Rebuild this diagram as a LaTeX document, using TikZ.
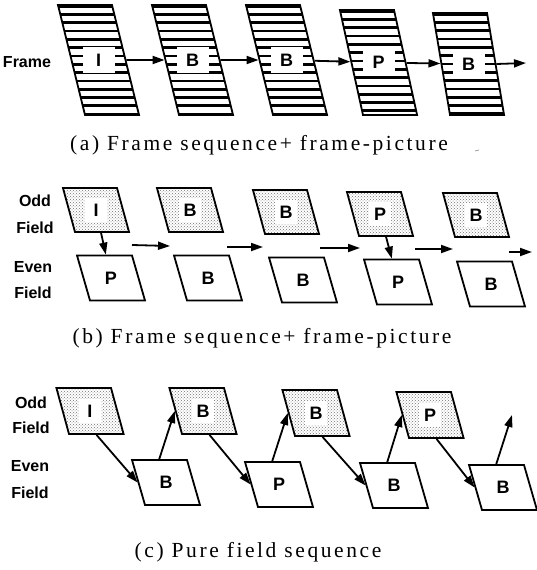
\documentclass[tikz,border=0pt]{standalone}
\usepackage{fontspec}
\setmainfont{Liberation Serif}
\newfontfamily\lsans{Liberation Sans}
\newfontfamily\capfont[LetterSpace=12]{Liberation Serif}
\usetikzlibrary{shapes.geometric,arrows.meta,patterns}

% Parallelograms are trapezium nodes whose body is fixed by the text box:
% top side = body + slant, total width = body + 2*slant.
\tikzset{
  fld/.style={trapezium, draw, line width=1.8pt, inner sep=0pt, align=center,
    font=\lsans\bfseries\fontsize{18}{18}\selectfont},
  oddf/.style={fld, trapezium left angle=105.3, trapezium right angle=74.7,
    text width=42pt, text height=28.45pt, text depth=15.55pt,
    pattern=crosshatch dots, pattern color=black!55,
    path picture={\fill[white] (path picture bounding box.center) +(-11,-12) rectangle +(11,12);}},
  oddc/.style={oddf, text height=29.45pt, text depth=16.55pt},
  evenf/.style={fld, fill=white, trapezium left angle=106.1, trapezium right angle=73.9,
    text width=42pt, text height=28.95pt, text depth=16.05pt},
  frm/.style={fld, fill=black,
    path picture={
      \foreach \k in {0,...,13}{
        \fill[white] ([yshift={-(2.5+\k*8.3)*1pt}]path picture bounding box.north west) rectangle ++(140,5.6);
      }
      \fill[white] (path picture bounding box.center) +(-16,-13) rectangle +(16,13);
    }},
  frmA/.style={frm, trapezium left angle=103.8, trapezium right angle=76.2,
    text width=27pt, text height=61.45pt, text depth=48.55pt},
  frmB/.style={frm, trapezium left angle=102.4, trapezium right angle=77.6,
    text width=31pt, text height=58.95pt, text depth=46.05pt},
  frmC/.style={frm, trapezium left angle=99.5, trapezium right angle=80.5,
    text width=37pt, text height=57.45pt, text depth=44.55pt},
  lab/.style={font=\lsans\bfseries\fontsize{16}{16}\selectfont, inner sep=0pt},
  captxt/.style={font=\capfont\fontsize{21.5}{21.5}\selectfont, inner sep=0pt},
  arr/.style={-{Triangle[length=12pt,width=8pt]}, line width=1.8pt},
}

\begin{document}
\begin{tikzpicture}[x=1pt,y=-1pt]
\useasboundingbox (0,0) rectangle (537,570);

% ---------- (a) frame sequence ----------
\node[lab] (lframe) at (27,62) {Frame};
\node[frmA] (f1) at (98.5,60) {I};
\node[frmA] (f2) at (192.5,60) {B};
\node[frmA] (f3) at (286.5,60) {B};
\node[frmB] (f4) at (378.5,62.5) {P};
\node[frmC] (f5) at (468.5,64) {B};
\coordinate (fend) at (526,63);
\draw[arr] (f1) -- (f2);
\draw[arr] (f2) -- (f3);
\draw[arr] (f3) -- (f4);
\draw[arr] (f4) -- (f5);
\draw[arr] (f5.east) -- (fend);
\node[captxt] (capa) at (259,145) {(a) Frame sequence+ frame-picture};
\draw[line width=0.7pt, black!45] (475,151) -- (479,150);

% ---------- (b) frame sequence, split into fields ----------
\node[lab] (bodd) at (35,201) {Odd};
\node[lab] (bodf) at (35,228) {Field};
\node[lab] (beven) at (33,267) {Even};
\node[lab] (bevf) at (33,293) {Field};

\node[oddf] (bo1) at (96,210) {I};
\node[oddf] (bo2) at (190,210) {B};
\node[oddf] (bo3) at (286,212) {B};
\node[oddf] (bo4) at (380,214) {P};
\node[oddf] (bo5) at (476,215) {B};

\node[evenf] (be1) at (111,278) {P};
\node[evenf] (be2) at (208,278) {B};
\node[evenf] (be3) at (303,280) {B};
\node[evenf] (be4) at (398,282) {P};
\node[evenf] (be5) at (491,284) {B};

\draw[arr] (bo1) -- (be1);
\draw[arr] (bo4) -- (be4);

\coordinate (h1s) at (132,245); \coordinate (h1e) at (170,246);
\coordinate (h2s) at (227,247); \coordinate (h2e) at (263,247);
\coordinate (h3s) at (320,248); \coordinate (h3e) at (360,248);
\coordinate (h4s) at (415,249); \coordinate (h4e) at (453,249);
\coordinate (h5s) at (509,252); \coordinate (h5e) at (532,252);
\draw[arr] (h1s) -- (h1e);
\draw[arr] (h2s) -- (h2e);
\draw[arr] (h3s) -- (h3e);
\draw[arr] (h4s) -- (h4e);
\draw[arr] (h5s) -- (h5e);

\node[captxt] (capb) at (262,338) {(b) Frame sequence+ frame-picture};

% ---------- (c) pure field sequence ----------
\node[lab] (codd) at (31,403) {Odd};
\node[lab] (codf) at (31,428) {Field};
\node[lab] (ceven) at (30,466) {Even};
\node[lab] (cevf) at (30,493) {Field};

\node[oddc] (co1) at (90,411) {I};
\node[oddc] (co2) at (203,411) {B};
\node[oddc] (co3) at (316,413) {B};
\node[oddc] (co4) at (430,415) {P};

\node[evenf] (ce1) at (166,482.5) {B};
\node[evenf] (ce2) at (279,484.5) {P};
\node[evenf] (ce3) at (394,485.5) {B};
\node[evenf] (ce4) at (503,487.5) {B};
\coordinate (cend) at (512,415);

\draw[arr] (co1.bottom side) -- (ce1.left side);
\draw[arr] (ce1.top side) -- (co2.left side);
\draw[arr] (co2.bottom side) -- (ce2.left side);
\draw[arr] (ce2.top side) -- (co3.left side);
\draw[arr] (co3.bottom side) -- (ce3.left side);
\draw[arr] (ce3.top side) -- (co4.left side);
\draw[arr] (co4.bottom side) -- (ce4.left side);
\draw[arr] (ce4.top side) -- (cend);

\node[captxt] (capc) at (258,552) {(c) Pure field sequence};
\end{tikzpicture}
\end{document}
